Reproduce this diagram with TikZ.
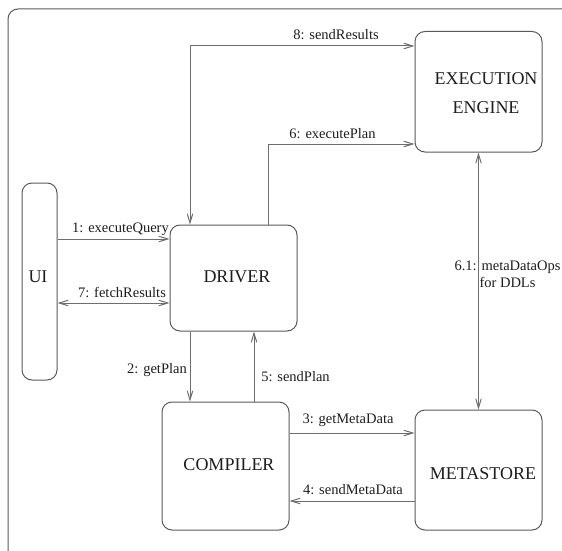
\documentclass[tikz,border=0pt]{standalone}
\usepackage{fontspec}
\setmainfont{Liberation Serif}
\usetikzlibrary{arrows.meta}
\definecolor{boxline}{HTML}{5A5A5A}
\definecolor{wire}{HTML}{6E6E6E}
\definecolor{ink}{HTML}{1E1E1E}
\tikzset{
  box/.style={draw=boxline, line width=1pt, rounded corners=10pt, inner sep=0pt},
  boxtext/.style={text=ink, font=\fontsize{18}{29}\selectfont, align=center, inner sep=0pt},
  msg/.style={text=ink, font=\fontsize{14.5}{17}\selectfont, align=center, inner sep=0pt},
  wireline/.style={draw=wire, line width=1pt},
  >={Straight Barb[length=9pt,width=5.5pt]}
}
\begin{document}
\begin{tikzpicture}[x=1pt,y=-1pt]
\useasboundingbox (0,0) rectangle (562,551);
\fill[white] (0,0) rectangle (562,551);

% outer frame, running off the right and bottom edges
\begin{scope}
  \clip (0,0) rectangle (562,551);
  \draw[draw=boxline, line width=1pt, rounded corners=10pt] (8,9) rectangle (600,600);
\end{scope}

% components
\node[box, minimum width=35pt,  minimum height=197pt] (ui)       at (39.5,281.5) {};
\node[box, minimum width=127pt, minimum height=106pt] (driver)   at (233.5,278)  {};
\node[box, minimum width=127pt, minimum height=120.5pt] (exec)   at (478.5,91.75) {};
\node[box, minimum width=127pt, minimum height=128pt] (compiler) at (225.5,466)  {};
\node[box, minimum width=127pt, minimum height=120pt] (meta)     at (478.5,470)  {};

\node[boxtext] (uitxt)       at (38,277)    {UI};
\node[boxtext] (drivertxt)   at (237,277)   {DRIVER};
\node[boxtext] (exectxt)     at (486,93)    {EXECUTION\\ENGINE};
\node[boxtext] (compilertxt) at (229,465)   {COMPILER};
\node[boxtext] (metatxt)     at (483,474)   {METASTORE};

% routing guides
\coordinate (xa) at (190,0);
\coordinate (xb) at (254,0);
\coordinate (xc) at (268,0);
\coordinate (ya) at (0,46);
\coordinate (yb) at (0,144);
\coordinate (yq) at (0,239);
\coordinate (yf) at (0,303);
\coordinate (yg) at (0,433);
\coordinate (ys) at (0,501);

% messages
\draw[wireline, <->] (driver.north -| xa) |- (exec.west |- ya);
\draw[wireline, ->]  (driver.north -| xc) |- (exec.west |- yb);
\draw[wireline, <->] (exec.south) -- (meta.north);
\draw[wireline, ->]  (ui.east |- yq) -- (driver.west |- yq);
\draw[wireline, <->] (ui.east |- yf) -- (driver.west |- yf);
\draw[wireline, ->]  (driver.south -| xa) -- (compiler.north -| xa);
\draw[wireline, ->]  (compiler.north -| xb) -- (driver.south -| xb);
\draw[wireline, ->]  (compiler.east |- yg) -- (meta.west |- yg);
\draw[wireline, ->]  (meta.west |- ys) -- (compiler.east |- ys);

% message labels
\node[msg] (l8)  at (336,35)    {8: sendResults};
\node[msg] (l6)  at (332.5,134) {6: executePlan};
\node[msg] (l61) at (507.5,274) {6.1: metaDataOps\\for DDLs};
\node[msg] (l1)  at (120.5,229) {1: executeQuery};
\node[msg] (l7)  at (122,292)   {7: fetchResults};
\node[msg] (l2)  at (157,370)   {2: getPlan};
\node[msg] (l5)  at (295.5,377) {5: sendPlan};
\node[msg] (l3)  at (348,420)   {3: getMetaData};
\node[msg] (l4)  at (353,490)   {4: sendMetaData};
\end{tikzpicture}
\end{document}
